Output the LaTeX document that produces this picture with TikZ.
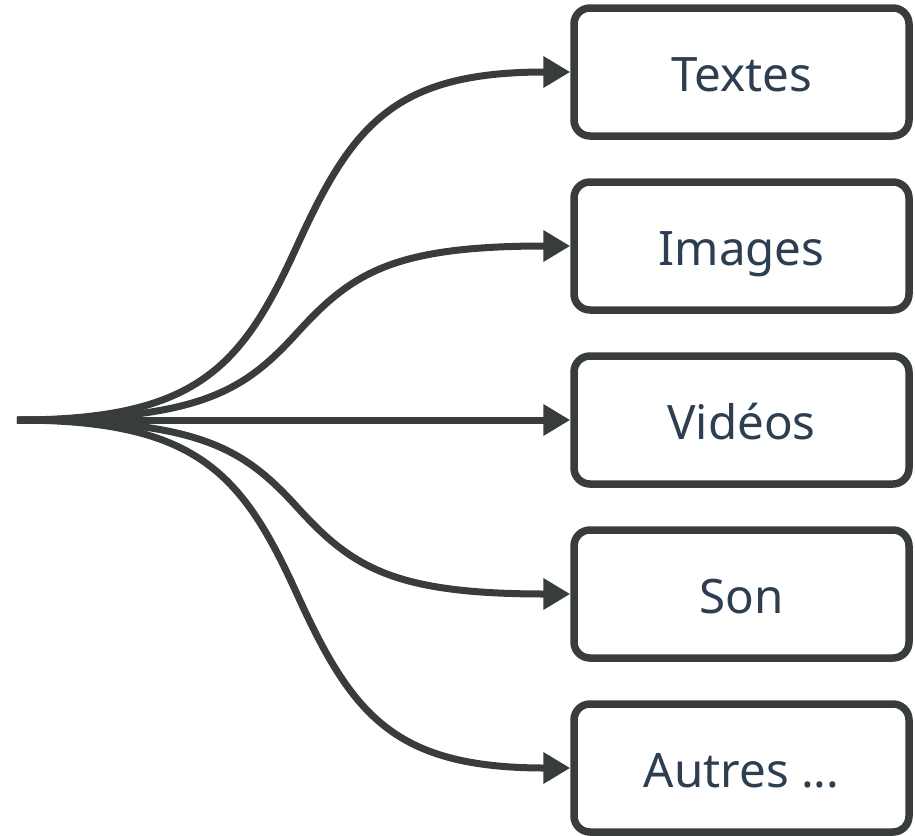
\documentclass[tikz,border=0pt]{standalone}
\usepackage{fontspec}
\setmainfont{Noto Sans}
\usetikzlibrary{arrows.meta}
\definecolor{linec}{HTML}{383C3C}
\definecolor{textc}{HTML}{2C3E50}
\tikzset{
  box/.style={draw=linec, line width=7.5pt, rounded corners=16pt, fill=white,
    minimum width=335pt, minimum height=128pt, inner sep=0pt,
    text height=38pt, text depth=0pt,
    text=textc, font=\fontsize{47.5}{52}\selectfont},
  conn/.style={draw=linec, line width=7pt, -{Triangle[length=27pt,width=30pt]}}
}
\begin{document}
\begin{tikzpicture}[x=1pt,y=-1pt]
\useasboundingbox (0,0) rectangle (915,835);
\coordinate (src) at (17,420);
\node[box] (t1) at (741.5,72) {Textes};
\node[box] (t2) at (741.5,246) {Images};
\node[box] (t3) at (741.5,420) {Vidéos};
\node[box] (t4) at (741.5,594) {Son};
\node[box] (t5) at (741.5,768) {Autres ...};
\draw[conn] (src) .. controls (197,420) and (242,367.1) .. (297,246)
                  .. controls (352,124.9) and (394,72) .. (t1.west);
\draw[conn] (src) .. controls (197,420) and (242,393.6) .. (297,333)
                  .. controls (352,272.4) and (394,246) .. (t2.west);
\draw[conn] (src) -- (t3.west);
\draw[conn] (src) .. controls (197,420) and (242,446.4) .. (297,507)
                  .. controls (352,567.6) and (394,594) .. (t4.west);
\draw[conn] (src) .. controls (197,420) and (242,472.9) .. (297,594)
                  .. controls (352,715.1) and (394,768) .. (t5.west);
\end{tikzpicture}
\end{document}
